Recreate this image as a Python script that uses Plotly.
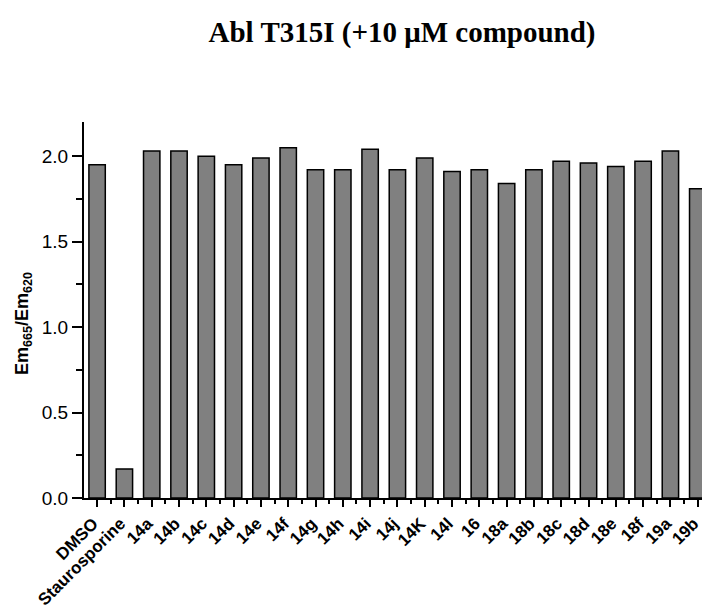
import plotly.graph_objects as go

categories = ["DMSO", "Staurosporine", "14a", "14b", "14c", "14d", "14e", "14f", "14g", "14h",
              "14i", "14j", "14K", "14l", "16", "18a", "18b", "18c", "18d", "18e", "18f", "19a", "19b"]
values = [1.95, 0.17, 2.03, 2.03, 2.00, 1.95, 1.99, 2.05, 1.92, 1.92,
          2.04, 1.92, 1.99, 1.91, 1.92, 1.84, 1.92, 1.97, 1.96, 1.94, 1.97, 2.03, 1.81]
y_ticks = [0.0, 0.5, 1.0, 1.5, 2.0]
y_tick_labels = ["0.0", "0.5", "1.0", "1.5", "2.0"]

xpos = list(range(len(categories)))

fig = go.Figure(go.Bar(
    x=xpos, y=values, width=0.6,
    marker=dict(color="#808080", line=dict(color="black", width=1.5)),
))

# page body has an 8px default margin; figure sized to fit the window
W, H = 702, 598
ml, mr, mt, mb = 76, 0, 114, 108
fig.update_layout(
    width=W, height=H,
    margin=dict(l=ml, r=mr, t=mt, b=mb),
    paper_bgcolor="white", plot_bgcolor="white",
    showlegend=False,
    title=dict(text="<b>Abl T315I (+10 μM compound)</b>", x=394/W, xanchor="center",
               y=1 - 14/H, yanchor="top",
               font=dict(family="Liberation Serif", size=29, color="black")),
    font=dict(family="Liberation Sans", color="black"),
)
fig.update_xaxes(
    range=[-0.48, 22.45], automargin=False,
    tickmode="array", tickvals=xpos, ticktext=categories,
    tickangle=-45, ticks="outside", ticklen=7, tickwidth=1.5, tickcolor="black",
    ticklabelshift=-4,
    tickfont=dict(family="Liberation Sans", size=17, color="black", weight="bold"),
    showline=True, linecolor="black", linewidth=2, showgrid=False, zeroline=False,
    minor=dict(tickmode="linear", tick0=0.5, dtick=1, ticks="outside", ticklen=4,
               tickwidth=1.5, tickcolor="black", showgrid=False),
)
fig.update_yaxes(
    range=[0, 2.2], automargin=False,
    tickmode="array", tickvals=y_ticks, ticktext=y_tick_labels,
    ticks="outside", ticklen=10, tickwidth=1.5, tickcolor="black",
    tickfont=dict(family="Liberation Sans", size=19, color="black"),
    showline=True, linecolor="black", linewidth=2, showgrid=False, zeroline=False,
    minor=dict(tickmode="linear", tick0=0.25, dtick=0.5, ticks="outside", ticklen=6,
               tickwidth=1.5, tickcolor="black", showgrid=False),
)
fig.add_annotation(
    text="<b>Em<sub>665</sub>/Em<sub>620</sub></b>", textangle=-90,
    xref="paper", yref="paper",
    x=(15 - ml) / (W - ml - mr), y=(H - mb - 316) / (H - mt - mb),
    xanchor="center", yanchor="middle", showarrow=False,
    font=dict(family="Liberation Sans", size=18, color="black"),
)
fig.write_html("out.html")
